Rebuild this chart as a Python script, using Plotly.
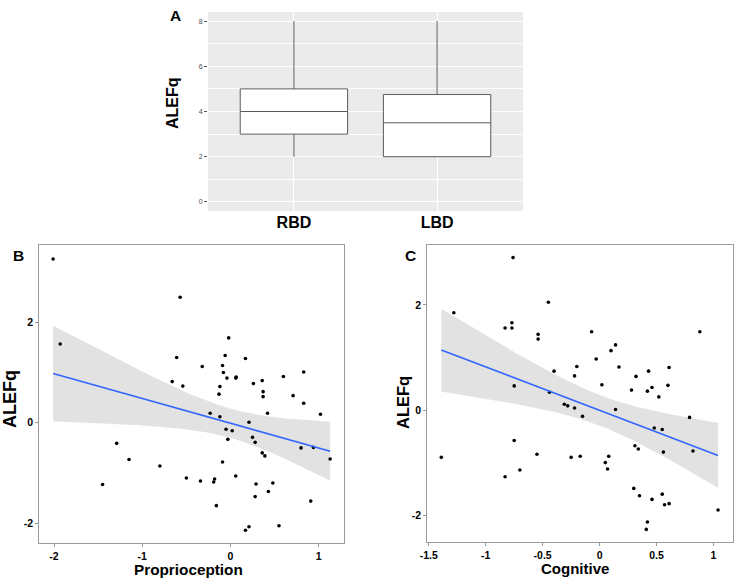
import numpy as np
import plotly.graph_objects as go

# ---------------- Data ----------------
groups = ["RBD", "LBD"]
box_q1 = [3, 2]
box_median = [4, 3.5]
box_q3 = [5, 4.75]
box_low = [2, 2]
box_high = [8, 8]

prop_x = [-2.01, -1.93, -0.57, -0.02, -0.61, -0.06, 0.17, -0.32, -0.09, -0.08,
          -0.04, 0.06, 0.065, -0.66, -0.54, -0.12, -0.13, 0.26, 0.36, 0.37,
          0.37, 0.60, 0.83, 0.71, 0.83, 0.42, 1.02, -0.23, -0.12, 0.21,
          -0.05, 0.02, -0.03, 0.25, 0.28, 0.36, 0.39, 0.80, 0.94, 1.13,
          -1.29, -1.15, -0.80, -0.09, -1.45, -0.50, -0.34, -0.18, -0.19, 0.06,
          0.29, 0.48, 0.28, 0.43, -0.16, 0.91, 0.21, 0.17, 0.55]
prop_y = [3.26, 1.57, 2.50, 1.69, 1.30, 1.34, 1.28, 1.12, 1.14, 1.00,
          0.89, 0.89, 0.91, 0.82, 0.73, 0.72, 0.57, 0.78, 0.84, 0.62,
          0.52, 0.92, 1.01, 0.54, 0.39, 0.19, 0.17, 0.19, 0.12, 0.01,
          -0.13, -0.16, -0.33, -0.29, -0.39, -0.60, -0.66, -0.50, -0.49, -0.72,
          -0.41, -0.73, -0.86, -0.78, -1.23, -1.10, -1.16, -1.12, -1.18, -1.06,
          -1.22, -1.20, -1.47, -1.37, -1.65, -1.56, -2.07, -2.14, -2.05]

cog_x = [-0.76, -1.28, -0.45, -0.83, -0.77, -0.77, -0.54, -0.54, -0.07, 0.14,
         0.10, -0.03, 0.88, -0.40, -0.20, -0.22, 0.17, 0.43, 0.32, 0.61,
         -0.75, 0.02, 0.60, 0.46, 0.28, 0.42, -0.44, 0.52, -0.31, -0.28,
         -0.22, 0.14, -0.15, 0.79, 0.48, 0.55, -0.75, 0.31, 0.34, 0.56,
         0.82, -1.39, -0.55, -0.25, -0.17, 0.08, 0.05, 0.07, -0.70, -0.83,
         0.30, 0.35, 0.46, 0.55, 0.57, 0.61, 1.04, 0.42, 0.41]
cog_y = [2.90, 1.85, 2.05, 1.56, 1.56, 1.66, 1.44, 1.35, 1.49, 1.24,
         1.13, 0.97, 1.49, 0.74, 0.83, 0.65, 0.82, 0.74, 0.64, 0.81,
         0.46, 0.48, 0.47, 0.43, 0.38, 0.36, 0.34, 0.25, 0.11, 0.08,
         0.04, 0.01, -0.12, -0.14, -0.34, -0.37, -0.58, -0.68, -0.74, -0.80,
         -0.78, -0.90, -0.84, -0.90, -0.88, -0.88, -1.00, -1.12, -1.14, -1.27,
         -1.49, -1.63, -1.70, -1.60, -1.80, -1.78, -1.90, -2.13, -2.27]


def lm_band(x, y, n_pts=80, tcrit=2.0025):
    x = np.asarray(x, float)
    y = np.asarray(y, float)
    n = len(x)
    b, a = np.polyfit(x, y, 1)
    resid = y - (a + b * x)
    s = np.sqrt(np.sum(resid ** 2) / (n - 2))
    xm = x.mean()
    sxx = np.sum((x - xm) ** 2)
    xs = np.linspace(x.min(), x.max(), n_pts)
    fit = a + b * xs
    se = s * np.sqrt(1.0 / n + (xs - xm) ** 2 / sxx)
    return xs, fit, fit - tcrit * se, fit + tcrit * se


FONT = "Liberation Sans, Arial, sans-serif"
LINE_BLUE = "#3366FF"
BAND = "rgba(160,160,160,0.30)"

fig = go.Figure()

# ---------------- Panel A: box plot ----------------
fig.add_trace(go.Box(
    x=groups, q1=box_q1, median=box_median, q3=box_q3,
    lowerfence=box_low, upperfence=box_high,
    fillcolor="white", line=dict(color="#5a5a5a", width=1),
    whiskerwidth=0, width=0.75, boxpoints=False,
    xaxis="x", yaxis="y", showlegend=False, hoverinfo="skip"))

# ---------------- Panel B & C: scatter + lm ----------------
panels = [(prop_x, prop_y, "x2", "y2"), (cog_x, cog_y, "x3", "y3")]
for px, py, xa, ya in panels:
    xs, fit, lo, hi = lm_band(px, py)
    fig.add_trace(go.Scatter(x=xs, y=lo, mode="lines", line=dict(width=0),
                             xaxis=xa, yaxis=ya, showlegend=False, hoverinfo="skip"))
    fig.add_trace(go.Scatter(x=xs, y=hi, mode="lines", line=dict(width=0),
                             fill="tonexty", fillcolor=BAND,
                             xaxis=xa, yaxis=ya, showlegend=False, hoverinfo="skip"))
    fig.add_trace(go.Scatter(x=px, y=py, mode="markers",
                             marker=dict(color="black", size=3.6),
                             xaxis=xa, yaxis=ya, showlegend=False))
    fig.add_trace(go.Scatter(x=xs, y=fit, mode="lines",
                             line=dict(color=LINE_BLUE, width=1.6),
                             xaxis=xa, yaxis=ya, showlegend=False))

tick_font_bc = dict(family=FONT, size=10.5, color="black")

scatter_axis = dict(showline=True, linecolor="#9a9a9a", linewidth=1, mirror=True,
                    showgrid=False, zeroline=False, ticks="outside", ticklen=3,
                    tickcolor="#9a9a9a", tickfont=tick_font_bc, automargin=False)

W, H = 740.0, 581.0  # body margin is removed by the post script


def px_x(v):
    return v / W


def px_y(v):
    return 1 - v / H


fig.update_layout(
    width=740, height=581,
    margin=dict(l=0, r=0, t=0, b=0),
    paper_bgcolor="white", plot_bgcolor="white",
    font=dict(family=FONT),
    # Panel A
    xaxis=dict(domain=[px_x(208), px_x(523)], anchor="y", range=[-0.6, 1.6],
               showgrid=True, gridcolor="white", gridwidth=1.2, automargin=False,
               ticks="", tickfont=dict(family=FONT, size=16, color="black"),
               tickvals=groups, ticktext=["<b>RBD</b>", "<b>LBD</b>"],
               zeroline=False, showline=False),
    yaxis=dict(domain=[px_y(211), px_y(12)], anchor="x", range=[-0.4, 8.4],
               tickvals=[0, 2, 4, 6, 8], showgrid=True, gridcolor="white",
               gridwidth=1.2, zeroline=False, ticks="outside", ticklen=3,
               automargin=False,
               tickcolor="#555555", tickfont=dict(family=FONT, size=7, color="#4d4d4d"),
               minor=dict(tickvals=[1, 3, 5, 7], showgrid=True, gridcolor="white",
                          gridwidth=0.6, ticks="")),
    # Panel B
    xaxis2=dict(scatter_axis, domain=[px_x(39.3), px_x(344)], anchor="y2",
                range=[-2.167, 1.287], tickvals=[-2, -1, 0, 1],
                ticktext=["<b>-2</b>", "<b>-1</b>", "<b>0</b>", "<b>1</b>"]),
    yaxis2=dict(scatter_axis, domain=[px_y(543.3), px_y(245)], anchor="x2",
                range=[-2.40, 3.54], tickvals=[-2, 0, 2],
                ticktext=["<b>-2</b>", "<b>0</b>", "<b>2</b>"]),
    # Panel C
    xaxis3=dict(scatter_axis, domain=[px_x(427.3), px_x(733.3)], anchor="y3",
                range=[-1.513, 1.174], tickvals=[-1.5, -1, -0.5, 0, 0.5, 1],
                ticktext=["<b>-1.5</b>", "<b>-1</b>", "<b>-0.5</b>", "<b>0</b>",
                          "<b>0.5</b>", "<b>1</b>"]),
    yaxis3=dict(scatter_axis, domain=[px_y(542), px_y(245)], anchor="x3",
                range=[-2.51, 3.14], tickvals=[-2, 0, 2],
                ticktext=["<b>-2</b>", "<b>0</b>", "<b>2</b>"]),
)

# Panel A background (grey panel)
fig.add_shape(type="rect", xref="x domain", yref="y domain", x0=0, x1=1, y0=0, y1=1,
              fillcolor="#EBEBEB", line=dict(width=0), layer="below")

# Panel letters and axis titles (positions in reference pixels)
texts = [
    ("A", 175.5, 15.5, 15.5, 0),
    ("B", 18.5, 255, 15.5, 0),
    ("C", 410, 255, 15.5, 0),
    ("ALEFq", 173, 103, 16, -90),
    ("ALEFq", 10, 399, 18, -90),
    ("ALEFq", 403, 403, 16.5, -90),
    ("Proprioception", 188, 569.5, 15.3, 0),
    ("Cognitive", 575, 568.5, 15, 0),
]
for txt, xp, yp, fs, ang in texts:
    fig.add_annotation(text="<b>%s</b>" % txt, x=px_x(xp), y=px_y(yp),
                       xref="paper", yref="paper", showarrow=False, textangle=ang,
                       font=dict(family=FONT, size=fs, color="black"),
                       xanchor="center", yanchor="middle")

fig.write_html("out.html",
               config={"displayModeBar": False},
               post_script="document.body.style.margin='0px';"
                           "document.body.style.overflow='hidden';")
